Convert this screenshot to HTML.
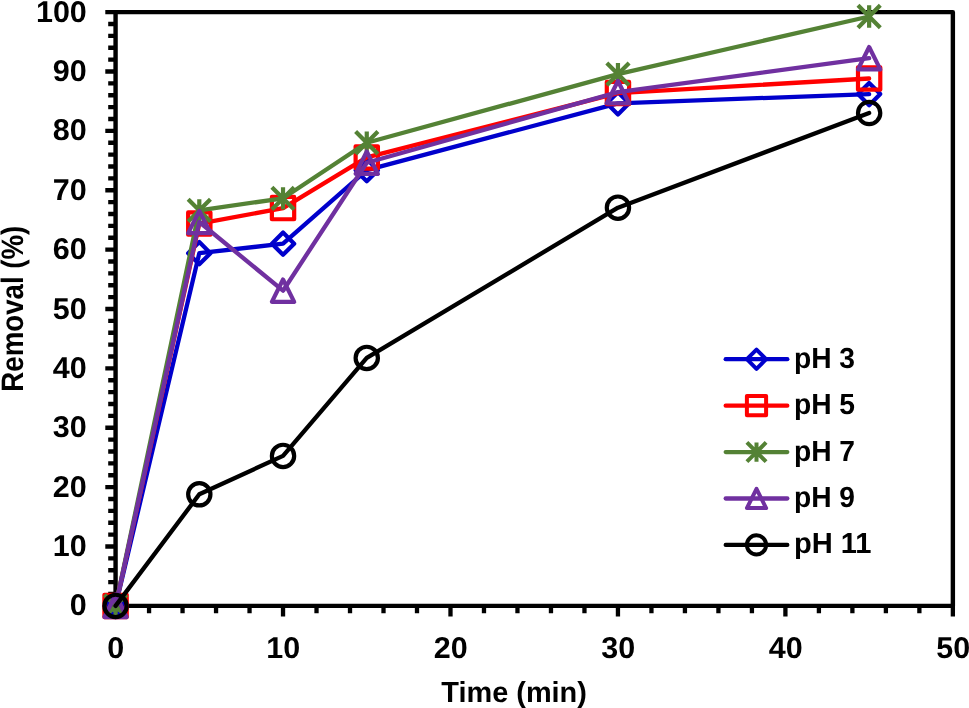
<!DOCTYPE html>
<html><head><meta charset="utf-8"><style>
html,body{margin:0;padding:0;background:#fff;}
body{width:969px;height:708px;overflow:hidden;font-family:"Liberation Sans",sans-serif;}
svg{display:block;will-change:transform;}
text{font-family:"Liberation Sans",sans-serif;font-weight:bold;text-rendering:geometricPrecision;fill:#000;}
</style></head><body>
<svg width="969" height="708" viewBox="0 0 969 708">
<rect width="969" height="708" fill="#fff"/>
<path d="M115.57 12.15H952.87V605.90" stroke="#000" stroke-width="4.4" fill="none" stroke-linejoin="round"/>
<path d="M115.57 9.95V605.90H952.87" stroke="#000" stroke-width="4.4" fill="none"/>
<path d="M105.3 605.90H115.57M108.2 594.02H115.57M108.2 582.15H115.57M108.2 570.27H115.57M108.2 558.40H115.57M105.3 546.52H115.57M108.2 534.65H115.57M108.2 522.77H115.57M108.2 510.90H115.57M108.2 499.02H115.57M105.3 487.15H115.57M108.2 475.27H115.57M108.2 463.40H115.57M108.2 451.52H115.57M108.2 439.65H115.57M105.3 427.77H115.57M108.2 415.90H115.57M108.2 404.02H115.57M108.2 392.15H115.57M108.2 380.27H115.57M105.3 368.40H115.57M108.2 356.52H115.57M108.2 344.65H115.57M108.2 332.77H115.57M108.2 320.90H115.57M105.3 309.02H115.57M108.2 297.15H115.57M108.2 285.27H115.57M108.2 273.40H115.57M108.2 261.52H115.57M105.3 249.65H115.57M108.2 237.77H115.57M108.2 225.90H115.57M108.2 214.02H115.57M108.2 202.15H115.57M105.3 190.27H115.57M108.2 178.40H115.57M108.2 166.52H115.57M108.2 154.65H115.57M108.2 142.77H115.57M105.3 130.90H115.57M108.2 119.02H115.57M108.2 107.15H115.57M108.2 95.27H115.57M108.2 83.40H115.57M105.3 71.52H115.57M108.2 59.65H115.57M108.2 47.77H115.57M108.2 35.90H115.57M108.2 24.02H115.57M105.3 12.15H115.57M115.57 605.90V616.5M149.06 605.90V613.3M182.55 605.90V613.3M216.05 605.90V613.3M249.54 605.90V613.3M283.03 605.90V616.5M316.52 605.90V613.3M350.01 605.90V613.3M383.51 605.90V613.3M417.00 605.90V613.3M450.49 605.90V616.5M483.98 605.90V613.3M517.47 605.90V613.3M550.97 605.90V613.3M584.46 605.90V613.3M617.95 605.90V616.5M651.44 605.90V613.3M684.93 605.90V613.3M718.43 605.90V613.3M751.92 605.90V613.3M785.41 605.90V616.5M818.90 605.90V613.3M852.39 605.90V613.3M885.89 605.90V613.3M919.38 605.90V613.3M952.87 605.90V616.5" stroke="#000" stroke-width="4.3" fill="none"/>
<polyline points="115.57,605.90 199.30,253.20 283.03,243.65 366.76,170.20 617.95,103.35 869.14,94.10" fill="none" stroke="#0000CC" stroke-width="4.3" stroke-linejoin="round" stroke-linecap="round"/>
<path d="M115.57 594.75L126.72 605.90L115.57 617.05L104.42 605.90Z" fill="none" stroke="#0000CC" stroke-width="4.2" stroke-linejoin="round"/>
<path d="M199.30 242.05L210.45 253.20L199.30 264.35L188.15 253.20Z" fill="none" stroke="#0000CC" stroke-width="4.2" stroke-linejoin="round"/>
<path d="M283.03 232.50L294.18 243.65L283.03 254.80L271.88 243.65Z" fill="none" stroke="#0000CC" stroke-width="4.2" stroke-linejoin="round"/>
<path d="M366.76 159.05L377.91 170.20L366.76 181.35L355.61 170.20Z" fill="none" stroke="#0000CC" stroke-width="4.2" stroke-linejoin="round"/>
<path d="M617.95 92.20L629.10 103.35L617.95 114.50L606.80 103.35Z" fill="none" stroke="#0000CC" stroke-width="4.2" stroke-linejoin="round"/>
<path d="M869.14 82.95L880.29 94.10L869.14 105.25L857.99 94.10Z" fill="none" stroke="#0000CC" stroke-width="4.2" stroke-linejoin="round"/>
<polyline points="115.57,605.90 199.30,223.60 283.03,208.10 366.76,157.45 617.95,93.10 869.14,78.50" fill="none" stroke="#FF0000" stroke-width="4.3" stroke-linejoin="round" stroke-linecap="round"/>
<rect x="104.42" y="594.75" width="22.30" height="22.30" fill="none" stroke="#FF0000" stroke-width="4.2" stroke-linejoin="round"/>
<rect x="188.15" y="212.45" width="22.30" height="22.30" fill="none" stroke="#FF0000" stroke-width="4.2" stroke-linejoin="round"/>
<rect x="271.88" y="196.95" width="22.30" height="22.30" fill="none" stroke="#FF0000" stroke-width="4.2" stroke-linejoin="round"/>
<rect x="355.61" y="146.30" width="22.30" height="22.30" fill="none" stroke="#FF0000" stroke-width="4.2" stroke-linejoin="round"/>
<rect x="606.80" y="81.95" width="22.30" height="22.30" fill="none" stroke="#FF0000" stroke-width="4.2" stroke-linejoin="round"/>
<rect x="857.99" y="67.35" width="22.30" height="22.30" fill="none" stroke="#FF0000" stroke-width="4.2" stroke-linejoin="round"/>
<polyline points="115.57,605.90 199.30,210.30 283.03,198.30 366.76,142.75 617.95,74.10 869.14,16.50" fill="none" stroke="#548235" stroke-width="4.3" stroke-linejoin="round" stroke-linecap="round"/>
<path d="M104.42 594.75L126.72 617.05M126.72 594.75L104.42 617.05M115.57 594.75L115.57 617.05" fill="none" stroke="#548235" stroke-width="4.2" stroke-linecap="butt"/>
<path d="M188.15 199.15L210.45 221.45M210.45 199.15L188.15 221.45M199.30 199.15L199.30 221.45" fill="none" stroke="#548235" stroke-width="4.2" stroke-linecap="butt"/>
<path d="M271.88 187.15L294.18 209.45M294.18 187.15L271.88 209.45M283.03 187.15L283.03 209.45" fill="none" stroke="#548235" stroke-width="4.2" stroke-linecap="butt"/>
<path d="M355.61 131.60L377.91 153.90M377.91 131.60L355.61 153.90M366.76 131.60L366.76 153.90" fill="none" stroke="#548235" stroke-width="4.2" stroke-linecap="butt"/>
<path d="M606.80 62.95L629.10 85.25M629.10 62.95L606.80 85.25M617.95 62.95L617.95 85.25" fill="none" stroke="#548235" stroke-width="4.2" stroke-linecap="butt"/>
<path d="M857.99 5.35L880.29 27.65M880.29 5.35L857.99 27.65M869.14 5.35L869.14 27.65" fill="none" stroke="#548235" stroke-width="4.2" stroke-linecap="butt"/>
<polyline points="115.57,605.90 199.30,222.00 283.03,290.70 366.76,162.70 617.95,92.15 869.14,58.20" fill="none" stroke="#7030A0" stroke-width="4.3" stroke-linejoin="round" stroke-linecap="round"/>
<path d="M115.57 594.75L126.72 617.05L104.42 617.05Z" fill="none" stroke="#7030A0" stroke-width="4.2" stroke-linejoin="round"/>
<path d="M199.30 210.85L210.45 233.15L188.15 233.15Z" fill="none" stroke="#7030A0" stroke-width="4.2" stroke-linejoin="round"/>
<path d="M283.03 279.55L294.18 301.85L271.88 301.85Z" fill="none" stroke="#7030A0" stroke-width="4.2" stroke-linejoin="round"/>
<path d="M366.76 151.55L377.91 173.85L355.61 173.85Z" fill="none" stroke="#7030A0" stroke-width="4.2" stroke-linejoin="round"/>
<path d="M617.95 81.00L629.10 103.30L606.80 103.30Z" fill="none" stroke="#7030A0" stroke-width="4.2" stroke-linejoin="round"/>
<path d="M869.14 47.05L880.29 69.35L857.99 69.35Z" fill="none" stroke="#7030A0" stroke-width="4.2" stroke-linejoin="round"/>
<polyline points="115.57,605.90 199.30,494.30 283.03,455.90 366.76,357.90 617.95,207.65 869.14,113.00" fill="none" stroke="#000000" stroke-width="4.3" stroke-linejoin="round" stroke-linecap="round"/>
<circle cx="115.57" cy="605.90" r="11.15" fill="none" stroke="#000000" stroke-width="4.2" stroke-linejoin="round"/>
<circle cx="199.30" cy="494.30" r="11.15" fill="none" stroke="#000000" stroke-width="4.2" stroke-linejoin="round"/>
<circle cx="283.03" cy="455.90" r="11.15" fill="none" stroke="#000000" stroke-width="4.2" stroke-linejoin="round"/>
<circle cx="366.76" cy="357.90" r="11.15" fill="none" stroke="#000000" stroke-width="4.2" stroke-linejoin="round"/>
<circle cx="617.95" cy="207.65" r="11.15" fill="none" stroke="#000000" stroke-width="4.2" stroke-linejoin="round"/>
<circle cx="869.14" cy="113.00" r="11.15" fill="none" stroke="#000000" stroke-width="4.2" stroke-linejoin="round"/>
<path d="M725.7 359.20H787.3" stroke="#0000CC" stroke-width="4.3" stroke-linecap="round"/>
<path d="M756.50 349.60L766.10 359.20L756.50 368.80L746.90 359.20Z" fill="none" stroke="#0000CC" stroke-width="4.0" stroke-linejoin="round"/>
<text x="793.9" y="367.70"  font-size="29" textLength="61.15" lengthAdjust="spacingAndGlyphs">pH 3</text>
<path d="M725.7 405.63H787.3" stroke="#FF0000" stroke-width="4.3" stroke-linecap="round"/>
<rect x="746.90" y="396.03" width="19.20" height="19.20" fill="none" stroke="#FF0000" stroke-width="4.0" stroke-linejoin="round"/>
<text x="793.9" y="414.13"  font-size="29" textLength="61.15" lengthAdjust="spacingAndGlyphs">pH 5</text>
<path d="M725.7 452.06H787.3" stroke="#548235" stroke-width="4.3" stroke-linecap="round"/>
<path d="M746.90 442.46L766.10 461.66M766.10 442.46L746.90 461.66M756.50 442.46L756.50 461.66" fill="none" stroke="#548235" stroke-width="4.0" stroke-linecap="butt"/>
<text x="793.9" y="460.56"  font-size="29" textLength="61.15" lengthAdjust="spacingAndGlyphs">pH 7</text>
<path d="M725.7 498.49H787.3" stroke="#7030A0" stroke-width="4.3" stroke-linecap="round"/>
<path d="M756.50 488.89L766.10 508.09L746.90 508.09Z" fill="none" stroke="#7030A0" stroke-width="4.0" stroke-linejoin="round"/>
<text x="793.9" y="506.99"  font-size="29" textLength="61.15" lengthAdjust="spacingAndGlyphs">pH 9</text>
<path d="M725.7 544.92H787.3" stroke="#000000" stroke-width="4.3" stroke-linecap="round"/>
<circle cx="756.50" cy="544.92" r="9.60" fill="none" stroke="#000000" stroke-width="4.0" stroke-linejoin="round"/>
<text x="793.9" y="553.42"  font-size="29" textLength="77.65" lengthAdjust="spacingAndGlyphs">pH 11</text>
<text x="86.8" y="615.40"  font-size="30.0" text-anchor="end" textLength="16.96" lengthAdjust="spacingAndGlyphs">0</text>
<text x="86.8" y="556.02"  font-size="30.0" text-anchor="end" textLength="33.92" lengthAdjust="spacingAndGlyphs">10</text>
<text x="86.8" y="496.65"  font-size="30.0" text-anchor="end" textLength="33.92" lengthAdjust="spacingAndGlyphs">20</text>
<text x="86.8" y="437.27"  font-size="30.0" text-anchor="end" textLength="33.92" lengthAdjust="spacingAndGlyphs">30</text>
<text x="86.8" y="377.90"  font-size="30.0" text-anchor="end" textLength="33.92" lengthAdjust="spacingAndGlyphs">40</text>
<text x="86.8" y="318.52"  font-size="30.0" text-anchor="end" textLength="33.92" lengthAdjust="spacingAndGlyphs">50</text>
<text x="86.8" y="259.15"  font-size="30.0" text-anchor="end" textLength="33.92" lengthAdjust="spacingAndGlyphs">60</text>
<text x="86.8" y="199.77"  font-size="30.0" text-anchor="end" textLength="33.92" lengthAdjust="spacingAndGlyphs">70</text>
<text x="86.8" y="140.40"  font-size="30.0" text-anchor="end" textLength="33.92" lengthAdjust="spacingAndGlyphs">80</text>
<text x="86.8" y="81.02"  font-size="30.0" text-anchor="end" textLength="33.92" lengthAdjust="spacingAndGlyphs">90</text>
<text x="86.8" y="21.65"  font-size="30.0" text-anchor="end" textLength="50.87" lengthAdjust="spacingAndGlyphs">100</text>
<text x="115.87" y="657.5"  font-size="30.0" text-anchor="middle" textLength="16.96" lengthAdjust="spacingAndGlyphs">0</text>
<text x="283.33" y="657.5"  font-size="30.0" text-anchor="middle" textLength="33.92" lengthAdjust="spacingAndGlyphs">10</text>
<text x="450.79" y="657.5"  font-size="30.0" text-anchor="middle" textLength="33.92" lengthAdjust="spacingAndGlyphs">20</text>
<text x="618.25" y="657.5"  font-size="30.0" text-anchor="middle" textLength="33.92" lengthAdjust="spacingAndGlyphs">30</text>
<text x="785.71" y="657.5"  font-size="30.0" text-anchor="middle" textLength="33.92" lengthAdjust="spacingAndGlyphs">40</text>
<text x="953.17" y="657.5"  font-size="30.0" text-anchor="middle" textLength="33.92" lengthAdjust="spacingAndGlyphs">50</text>
<text x="514.1" y="702.1"  font-size="29" text-anchor="middle" textLength="145.6" lengthAdjust="spacingAndGlyphs">Time (min)</text>
<text transform="translate(22.6 308.7) rotate(-90)" x="0" y="0"  font-size="31" text-anchor="middle" textLength="166" lengthAdjust="spacingAndGlyphs">Removal (%)</text>
</svg>
</body></html>
